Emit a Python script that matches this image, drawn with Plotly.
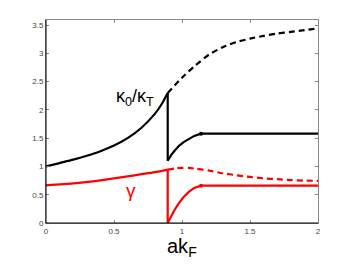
import plotly.graph_objects as go

# Black: kappa0/kappaT
k_main_x = [0.0, 0.1, 0.2, 0.3, 0.4, 0.5, 0.6, 0.7, 0.8, 0.85, 0.895]
k_main_y = [1.0, 1.06, 1.12, 1.19, 1.27, 1.37, 1.50, 1.68, 1.93, 2.10, 2.30]
k_drop_x = [0.895, 0.895]
k_drop_y = [2.30, 1.10]
k_low_x = [0.895, 0.92, 0.95, 0.98, 1.012, 1.05, 1.09, 1.14, 2.0]
k_low_y = [1.10, 1.20, 1.29, 1.37, 1.43, 1.49, 1.54, 1.58, 1.58]
k_dash_x = [0.895, 1.0, 1.1, 1.2, 1.3, 1.4, 1.5, 1.6, 1.7, 1.8, 1.9, 2.0]
k_dash_y = [2.30, 2.57, 2.79, 2.98, 3.11, 3.20, 3.26, 3.31, 3.35, 3.38, 3.41, 3.44]

# Red: gamma
g_main_x = [0.0, 0.2, 0.4, 0.6, 0.8, 0.895]
g_main_y = [0.667, 0.70, 0.755, 0.825, 0.90, 0.945]
g_drop_x = [0.895, 0.895]
g_drop_y = [0.945, 0.0]
g_low_x = [0.895, 0.92, 0.95, 0.98, 1.012, 1.05, 1.09, 1.14, 2.0]
g_low_y = [0.0, 0.12, 0.25, 0.36, 0.46, 0.55, 0.62, 0.66, 0.66]
g_dash_x = [0.895, 0.95, 1.0, 1.05, 1.1, 1.2, 1.3, 1.4, 1.5, 1.6, 1.7, 1.8, 1.9, 2.0]
g_dash_y = [0.945, 0.965, 0.975, 0.975, 0.96, 0.925, 0.88, 0.845, 0.815, 0.79, 0.775, 0.76, 0.75, 0.745]

x_ticks = [0, 0.5, 1, 1.5, 2]
x_tick_text = ["0", "0.5", "1", "1.5", "2"]
y_ticks = [0, 0.5, 1, 1.5, 2, 2.5, 3, 3.5]
y_tick_text = ["0", "0.5", "1", "1.5", "2", "2.5", "3", "3.5"]

fig = go.Figure()
W = 2.2

def add(x, y, color, dash="solid", shape="spline"):
    fig.add_trace(go.Scatter(x=x, y=y, mode="lines",
                             line=dict(color=color, width=W, dash=dash, shape=shape, smoothing=0.6),
                             showlegend=False, hoverinfo="skip"))

add(k_dash_x, k_dash_y, "black", "6px,4px")
add(k_main_x, k_main_y, "black")
add(k_drop_x, k_drop_y, "black", shape="linear")
add(k_low_x, k_low_y, "black", shape="linear")
add(g_dash_x, g_dash_y, "red", "6px,4px")
add(g_main_x, g_main_y, "red")
add(g_drop_x, g_drop_y, "red", shape="linear")
add(g_low_x, g_low_y, "red", shape="linear")

fig.add_trace(go.Scatter(x=[k_low_x[7], g_low_x[7]], y=[k_low_y[7], g_low_y[7]], mode="markers",
                         marker=dict(color=["black", "red"], size=4),
                         showlegend=False, hoverinfo="skip"))

fig.add_annotation(x=0.655, y=2.22, text="κ<sub>0</sub>/κ<sub>T</sub>", showarrow=False,
                   font=dict(size=18, color="black", family="Liberation Sans"))
fig.add_annotation(x=0.625, y=0.58, text="γ", showarrow=False,
                   font=dict(size=19, color="red", family="Liberation Sans"))
fig.add_annotation(x=0.5, y=-0.05, xref="paper", yref="paper", yanchor="top",
                   text="ak<sub>F</sub>", showarrow=False,
                   font=dict(size=20, color="black", family="Liberation Sans"))

axis_common = dict(showgrid=False, zeroline=False, ticks="inside", ticklen=3,
                   tickcolor="#888", linecolor="#888", linewidth=1, mirror="ticks",
                   automargin=False,
                   tickfont=dict(size=8, color="#444", family="Liberation Sans"))

fig.update_xaxes(range=[0, 2], tickvals=x_ticks, ticktext=x_tick_text, **axis_common)
fig.update_yaxes(range=[0, 3.59], tickvals=y_ticks, ticktext=y_tick_text, **axis_common)

fig.add_shape(type="line", xref="paper", yref="paper", x0=0, y0=0, x1=1, y1=0,
              line=dict(color="black", width=1))
fig.add_shape(type="line", xref="paper", yref="paper", x0=0, y0=0, x1=0, y1=1,
              line=dict(color="black", width=1))

fig.update_layout(width=350, height=264, margin=dict(l=46, r=32, t=20, b=41),
                  plot_bgcolor="white", paper_bgcolor="white")

fig.write_html("out.html", config={"displayModeBar": False},
               post_script="document.body.style.margin='0';document.body.style.overflow='hidden';")
